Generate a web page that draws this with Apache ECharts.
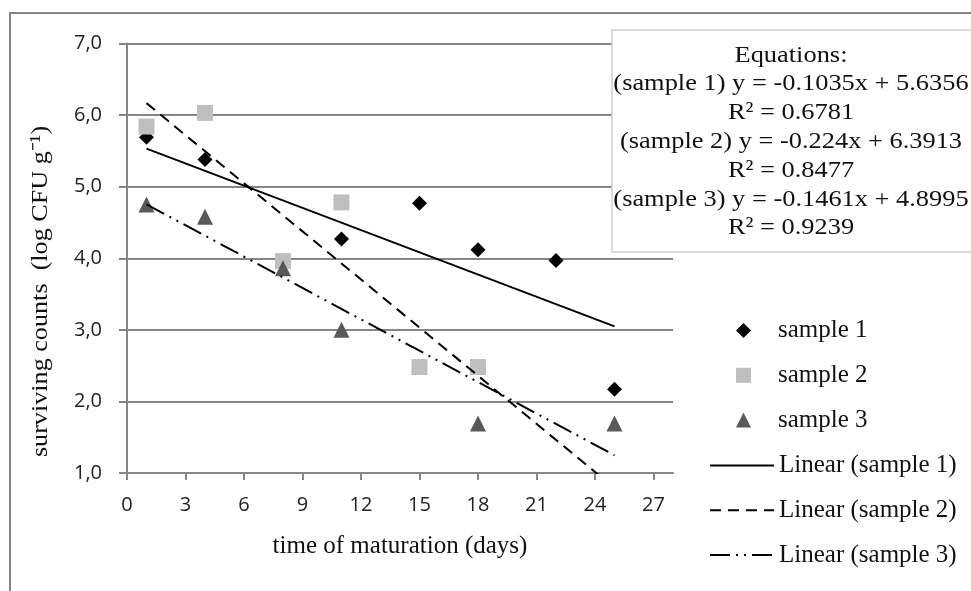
<!DOCTYPE html>
<html>
<head>
<meta charset="utf-8">
<script src="https://cdn.jsdelivr.net/npm/echarts@6/dist/echarts.min.js"></script>
<style>
  html, body { margin: 0; padding: 0; background: #fff; }
  #chart { width: 971px; height: 591px; }
</style>
</head>
<body>
<div id="chart"></div>
<script>
// measured values
const sample1 = [[1, 5.69], [4, 5.38], [11, 4.27], [15, 4.77], [18, 4.12], [22, 3.97], [25, 2.17]];
const sample2 = [[1, 5.84], [4, 6.03], [8, 3.96], [11, 4.78], [15, 2.48], [18, 2.48]];
const sample3 = [[1, 4.75], [4, 4.58], [8, 3.86], [11, 3.0], [18, 1.69], [25, 1.69]];

// trendline coefficients (from the equation box)
const slopes = [-0.1035, -0.224, -0.1461];
const intercepts = [5.6356, 6.3913, 4.8995];
const r2 = ['0.6781', '0.8477', '0.9239'];
const trendRange = [1, 25];

const xTicks = [0, 3, 6, 9, 12, 15, 18, 21, 24, 27];
const sampleNames = ['sample 1', 'sample 2', 'sample 3'];
const trendNames = ['Linear (sample 1)', 'Linear (sample 2)', 'Linear (sample 3)'];

const gridColor = '#858585';
const serif = '"Liberation Serif", "Times New Roman", serif';
const legendTop = 313;
const legendStep = 45;

function trend(i) {
  return trendRange.map(x => [x, slopes[i] * x + intercepts[i]]);
}

const eqLines = ['Equations:'];
sampleNames.forEach((n, i) => {
  eqLines.push('(' + n + ') y = ' + slopes[i] + 'x + ' + intercepts[i]);
  eqLines.push('R\u00b2 = ' + r2[i]);
});

const legendText = { fontFamily: serif, fontSize: 25, color: '#111', lineHeight: 24 };

const chart = echarts.init(document.getElementById('chart'));
chart.setOption({
  backgroundColor: '#ffffff',
  animation: false,
  grid: { left: 127, top: 43.5, width: 546, height: 429.5 },
  xAxis: {
    type: 'value',
    min: 0, max: 28, interval: 3,
    name: 'time of maturation (days)',
    nameLocation: 'middle',
    nameGap: 61,
    nameTextStyle: { fontFamily: serif, fontSize: 25, color: '#111' },
    axisLine: { show: true, lineStyle: { color: gridColor, width: 2 } },
    axisTick: { show: true, length: 7, lineStyle: { color: gridColor, width: 2 }, customValues: xTicks },
    axisLabel: { margin: 22, fontFamily: '"Open Sans", sans-serif', fontSize: 20, color: '#222', customValues: xTicks },
    splitLine: { show: false }
  },
  yAxis: {
    type: 'value',
    min: 1, max: 7, interval: 1,
    axisLine: { show: true, lineStyle: { color: gridColor, width: 2 } },
    axisTick: { show: true, length: 8, lineStyle: { color: gridColor, width: 2 } },
    axisLabel: {
      margin: 25, fontFamily: '"Open Sans", sans-serif', fontSize: 20, color: '#222',
      formatter: v => v.toFixed(1).replace('.', ',')
    },
    splitLine: { show: true, lineStyle: { color: gridColor, width: 2 } }
  },
  legend: [
    {
      orient: 'vertical', left: 731, top: legendTop,
      itemWidth: 15, itemHeight: 15, itemGap: legendStep - 25.2,
      textStyle: Object.assign({ padding: [0, 0, 0, 22] }, legendText),
      data: sampleNames
    },
    {
      orient: 'vertical', left: 704, top: legendTop + 3 * legendStep,
      itemWidth: 64, itemHeight: 15, itemGap: legendStep - 25.2,
      textStyle: legendText,
      data: trendNames
    }
  ],
  series: [
    { name: sampleNames[0], type: 'scatter', symbol: 'diamond', symbolSize: 15,
      itemStyle: { color: '#000', opacity: 1 }, data: sample1 },
    { name: sampleNames[1], type: 'scatter', symbol: 'rect', symbolSize: 16,
      itemStyle: { color: '#bfbfbf', opacity: 1 }, data: sample2 },
    { name: sampleNames[2], type: 'scatter', symbol: 'triangle', symbolSize: 16,
      itemStyle: { color: '#595959', opacity: 1 }, data: sample3 },
    { name: trendNames[0], type: 'line', symbol: 'none', clip: true,
      lineStyle: { color: '#000', width: 2, type: 'solid' }, itemStyle: { color: 'rgba(0,0,0,0)' }, data: trend(0) },
    { name: trendNames[1], type: 'line', symbol: 'none', clip: true,
      lineStyle: { color: '#000', width: 2, type: [11, 7] }, itemStyle: { color: 'rgba(0,0,0,0)' }, data: trend(1) },
    { name: trendNames[2], type: 'line', symbol: 'none', clip: true,
      lineStyle: { color: '#000', width: 2, type: [20, 6, 2, 6, 2, 6] }, itemStyle: { color: 'rgba(0,0,0,0)' }, data: trend(2) }
  ],
  graphic: [
    { type: 'rect', z: 0, silent: true,
      shape: { x: 10, y: 13, width: 1000, height: 700 },
      style: { fill: 'none', stroke: '#858585', lineWidth: 2 } },
    { type: 'rect', z: 100, silent: true,
      shape: { x: 612, y: 30, width: 360, height: 222 },
      style: { fill: '#ffffff', stroke: '#cfcfcf', lineWidth: 1.5 } },
    { type: 'text', z: 101, silent: true, x: 791, y: 41, scaleX: 1.1,
      style: {
        text: eqLines.join('\n'), fontFamily: serif, fontSize: 24, lineHeight: 28.8,
        fill: '#111', align: 'center', verticalAlign: 'top'
      } },
    { type: 'text', z: 101, silent: true, x: 41, y: 291.5, rotation: Math.PI / 2, scaleX: 1.09,
      style: {
        text: 'surviving counts  (log CFU g\u207b\u00b9)', fontFamily: serif, fontSize: 24,
        fill: '#111', align: 'center', verticalAlign: 'middle'
      } }
  ]
});
</script>
</body>
</html>
